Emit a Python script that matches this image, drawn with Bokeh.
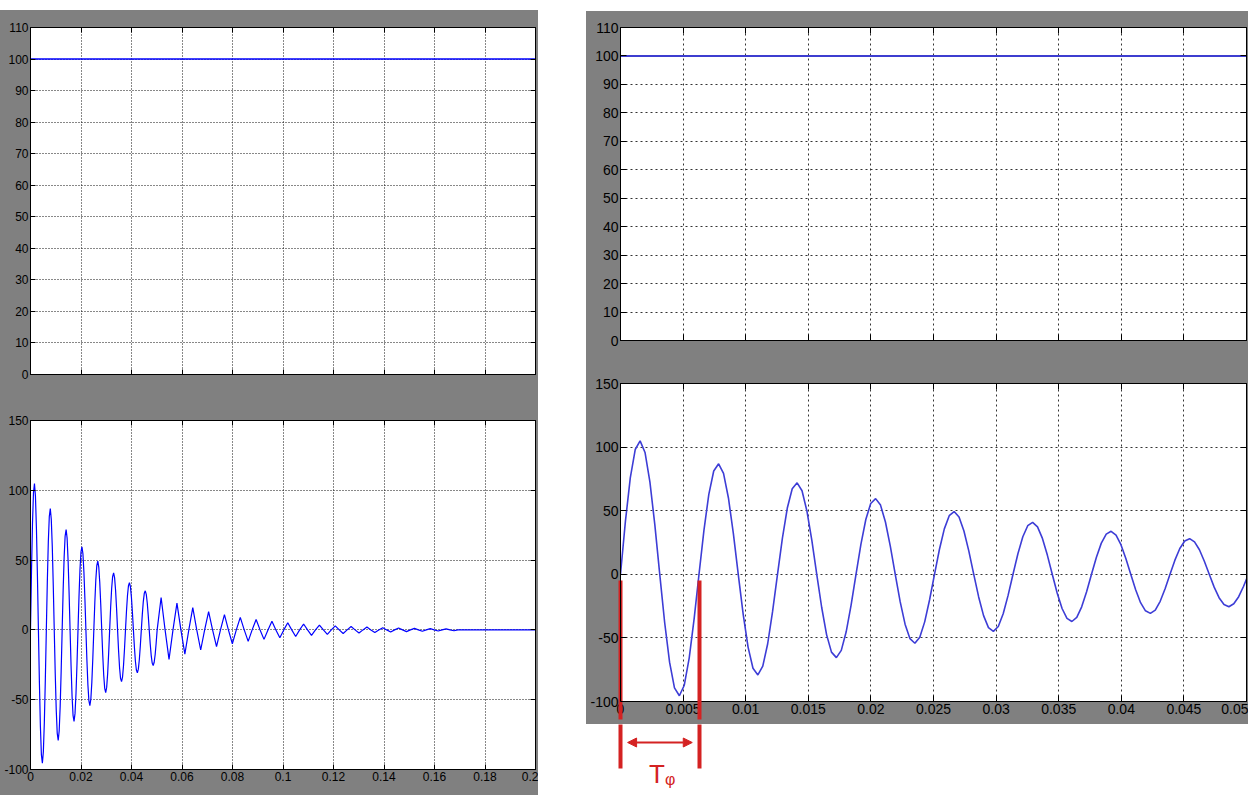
from bokeh.plotting import figure
from bokeh.layouts import row, column, Spacer
from bokeh.models import Range1d, LinearAxis, FixedTicker, Arrow, NormalHead, Label
from bokeh.embed import file_html
from bokeh.resources import INLINE
import numpy as np

GRAY = "#808080"
RED = "#d42222"
FONT = "Liberation Sans"

# ---------------- data ----------------
# reference (setpoint) signal, constant 100
ref_level = [100, 100]
ref_t_wide = [0.0, 0.2]
ref_t_zoom = [0.0, 0.05]

# damped oscillation, time in ms (first 50 ms, finely read)
t_ms = [
    0, 0.392, 0.784, 1.176, 1.567, 1.959, 2.351, 2.743, 3.135, 3.527, 3.919, 4.311, 4.703, 5.094, 5.486, 5.878,
    6.270, 6.662, 7.054, 7.446, 7.837, 8.229, 8.621, 9.013, 9.405, 9.797, 10.189, 10.581, 10.973, 11.364, 11.756, 12.148,
    12.540, 12.932, 13.324, 13.716, 14.107, 14.499, 14.891, 15.283, 15.675, 16.067, 16.459, 16.851, 17.243, 17.634, 18.026, 18.418,
    18.810, 19.202, 19.594, 19.986, 20.377, 20.769, 21.161, 21.553, 21.945, 22.337, 22.729, 23.121, 23.513, 23.904, 24.296, 24.688,
    25.080, 25.472, 25.864, 26.256, 26.647, 27.039, 27.431, 27.823, 28.215, 28.607, 28.999, 29.391, 29.783, 30.174, 30.566, 30.958,
    31.350, 31.742, 32.134, 32.526, 32.917, 33.309, 33.701, 34.093, 34.485, 34.877, 35.269, 35.661, 36.053, 36.444, 36.836, 37.228,
    37.620, 38.012, 38.404, 38.796, 39.187, 39.579, 39.971, 40.363, 40.755, 41.147, 41.539, 41.931, 42.323, 42.714, 43.106, 43.498,
    43.890, 44.282, 44.674, 45.066, 45.457, 45.849, 46.241, 46.633, 47.025, 47.417, 47.809, 48.201, 48.593, 48.984, 49.376, 49.768,
    50.160,
]
y_osc = [
    0, 41.6, 76.0, 98.1, 104.9, 95.8, 72.5, 38.8, 0, -37.9, -69.1, -89.3, -95.5, -87.2, -65.9, -35.3,
    0, 34.4, 62.9, 81.2, 86.9, 79.3, 60.0, 32.1, 0, -31.3, -57.2, -73.9, -79.1, -72.2, -54.6, -29.2,
    0, 28.5, 52.1, 67.2, 71.9, 65.7, 49.7, 26.6, 0, -25.9, -47.4, -61.2, -65.5, -59.8, -45.2, -24.2,
    0, 23.6, 43.1, 55.7, 59.5, 54.4, 41.1, 22.0, 0, -21.5, -39.2, -50.6, -54.2, -49.5, -37.4, -20.0,
    0, 19.5, 35.7, 46.1, 49.3, 45.0, 34.0, 18.2, 0, -17.8, -32.5, -41.9, -44.9, -41.0, -31.0, -16.6,
    0, 16.2, 29.5, 38.2, 40.8, 37.3, 28.2, 15.1, 0, -14.7, -26.9, -34.7, -37.1, -33.9, -25.6, -13.7,
    0, 13.4, 24.5, 31.6, 33.8, 30.8, 23.3, 12.5, 0, -12.2, -22.3, -28.7, -30.7, -28.1, -21.2, -11.4,
    0, 11.1, 20.3, 26.2, 28.0, 25.5, 19.3, 10.3, 0, -10.1, -18.4, -23.8, -25.5, -23.2, -17.6, -9.4,
    0,
]

# tail of the oscillation (50 ms .. 200 ms), peaks and zero crossings
t_tail_ms = [
    51.73, 53.30, 54.86, 56.43, 58.00, 59.57, 61.13, 62.70, 64.27, 65.84, 67.40, 68.97,
    70.54, 72.11, 73.67, 75.24, 76.81, 78.38, 79.94, 81.51, 83.08, 84.65, 86.21, 87.78,
    89.35, 90.92, 92.48, 94.05, 95.62, 97.19, 98.75, 100.32, 101.89, 103.46, 105.02, 106.59,
    108.16, 109.73, 111.29, 112.86, 114.43, 116.00, 117.56, 119.13, 120.70, 122.27, 123.83, 125.40,
    126.97, 128.54, 130.10, 131.67, 133.24, 134.81, 136.37, 137.94, 139.51, 141.08, 142.64, 144.21,
    145.78, 147.35, 148.91, 150.48, 152.05, 153.62, 155.18, 156.75, 158.32, 159.89, 161.45, 163.02,
    164.59, 166.16, 167.72, 169.29, 200.0,
]
y_tail = [
    23.2, 0, -21.1, 0, 19.2, 0, -17.4, 0, 15.9, 0, -14.4, 0,
    13.1, 0, -12.0, 0, 10.9, 0, -9.9, 0, 9.0, 0, -8.2, 0,
    7.5, 0, -6.8, 0, 6.2, 0, -5.6, 0, 5.1, 0, -4.7, 0,
    4.2, 0, -3.9, 0, 3.5, 0, -3.2, 0, 2.9, 0, -2.6, 0,
    2.4, 0, -2.2, 0, 2.0, 0, -1.8, 0, 1.6, 0, -1.5, 0,
    1.4, 0, -1.2, 0, 1.1, 0, -1.0, 0, 0.9, 0, -0.8, 0,
    0.7, 0, -0.6, 0, 0,
]

# ticks
x_ticks_wide = [0, 0.02, 0.04, 0.06, 0.08, 0.1, 0.12, 0.14, 0.16, 0.18, 0.2]
x_labels_wide = ["0", "0.02", "0.04", "0.06", "0.08", "0.1", "0.12", "0.14", "0.16", "0.18", "0.2"]
x_ticks_zoom = [0, 0.005, 0.01, 0.015, 0.02, 0.025, 0.03, 0.035, 0.04, 0.045, 0.05]
x_labels_zoom = ["0", "0.005", "0.01", "0.015", "0.02", "0.025", "0.03", "0.035", "0.04", "0.045", "0.05"]
y_ticks_ref = [0, 10, 20, 30, 40, 50, 60, 70, 80, 90, 100, 110]
y_labels_ref = ["0", "10", "20", "30", "40", "50", "60", "70", "80", "90", "100", "110"]
y_ticks_osc = [-100, -50, 0, 50, 100, 150]
y_labels_osc = ["-100", "-50", "0", "50", "100", "150"]

# period annotation T_phi (s)
tphi = [0.0, 0.0063]

t_main = np.array(t_ms) / 1000.0
t_all = np.concatenate([t_main, np.array(t_tail_ms) / 1000.0])
y_all = np.concatenate([np.array(y_osc), np.array(y_tail)])


def style_axis(ax, ticks, labels, font_size, tick_len, show_labels=True, standoff=2):
    ax.ticker = FixedTicker(ticks=ticks)
    ax.major_tick_in = tick_len
    ax.major_tick_out = 0
    ax.minor_tick_line_color = None
    ax.axis_line_color = "black"
    ax.major_tick_line_color = "black"
    ax.major_label_text_font = FONT
    ax.major_label_text_color = "black"
    ax.axis_label_standoff = 0
    if show_labels:
        ax.major_label_overrides = dict(zip(ticks, labels))
        ax.major_label_text_font_size = font_size
        ax.major_label_standoff = standoff
    else:
        ax.major_label_overrides = {t: "" for t in ticks}
        ax.major_label_text_font_size = "1px"
        ax.major_label_standoff = 0


def make_plot(width, height, borders, x_end, yr, xticks, xlabels, yticks, ylabels,
              show_x, font_size, tick_len, dash, grid_color):
    left, right, top, bottom = borders
    p = figure(width=width, height=height, x_range=Range1d(0, x_end), y_range=Range1d(*yr),
               output_backend="svg", toolbar_location=None,
               min_border_left=left, min_border_right=right,
               min_border_top=top, min_border_bottom=bottom,
               background_fill_color="white", border_fill_color=GRAY,
               outline_line_color="black")
    style_axis(p.xaxis[0], xticks, xlabels, font_size, tick_len, show_x, 2)
    style_axis(p.yaxis[0], yticks, ylabels, font_size, tick_len, True, 2)
    p.grid.grid_line_color = grid_color
    p.grid.grid_line_dash = dash
    p.grid.grid_line_width = 1
    top_ax = LinearAxis()
    style_axis(top_ax, xticks, xlabels, font_size, tick_len, False)
    p.add_layout(top_ax, "above")
    right_ax = LinearAxis()
    style_axis(right_ax, yticks, ylabels, font_size, tick_len, False)
    p.add_layout(right_ax, "right")
    return p


def marker_axis(tick_in, tick_out):
    """An axis that only draws the red T_phi marker lines as its ticks."""
    ax = LinearAxis(ticker=FixedTicker(ticks=tphi))
    ax.major_label_overrides = {t: "" for t in tphi}
    ax.major_label_text_font_size = "1px"
    ax.major_label_standoff = 0
    ax.axis_label_standoff = 0
    ax.axis_line_color = None
    ax.minor_tick_line_color = None
    ax.major_tick_line_color = RED
    ax.major_tick_line_width = 4
    ax.major_tick_in = tick_in
    ax.major_tick_out = tick_out
    return ax


# ---------------- left panel ----------------
f1 = make_plot(538, 387, (30, 3, 17, 23), 0.2, (0, 110), x_ticks_wide, x_labels_wide,
               y_ticks_ref, y_labels_ref, False, "12px", 5, "1 2", "#111111")
f1.line(ref_t_wide, ref_level, line_color="#0000ff", line_width=1.5)

f2 = make_plot(538, 398, (30, 3, 23, 26), 0.2, (-100, 150), x_ticks_wide, x_labels_wide,
               y_ticks_osc, y_labels_osc, True, "12px", 5, "1 2", "#111111")
f2.line(t_all, y_all, line_color="#0000ff", line_width=1.2)

# ---------------- right panel ----------------
f3 = make_plot(662, 350, (34, 2, 16, 21), 0.05, (0, 110), x_ticks_zoom, x_labels_zoom,
               y_ticks_ref, y_labels_ref, False, "14px", 6, "2 3", "#333333")
f3.line(ref_t_zoom, ref_level, line_color="#3d3dd0", line_width=2)

f4 = make_plot(662, 363, (34, 2, 22, 23), 0.05, (-100, 150), x_ticks_zoom, x_labels_zoom,
               y_ticks_osc, y_labels_osc, True, "14px", 6, "2 3", "#333333")
f4.line(t_main, y_osc, line_color="#3d3dd6", line_width=1.6)
# T_phi marker lines: from just below zero down through the grey tick-label strip
f4.add_layout(marker_axis(136, 3), "below")

# white annotation strip under the right panel (shares the x scale)
f5 = figure(width=662, height=71, x_range=f4.x_range, y_range=Range1d(0, 68),
            output_backend="svg", toolbar_location=None,
            min_border_left=34, min_border_right=2, min_border_top=3, min_border_bottom=0,
            x_axis_type=None, y_axis_type=None,
            background_fill_color="white", border_fill_color="white", outline_line_color=None)
f5.grid.visible = False
f5.add_layout(marker_axis(41, 3), "above")
span = tphi[1] - tphi[0]
f5.add_layout(Arrow(start=NormalHead(size=9, fill_color=RED, line_color=RED),
                    end=NormalHead(size=9, fill_color=RED, line_color=RED),
                    x_start=tphi[0] + 0.09 * span, x_end=tphi[1] - 0.09 * span,
                    y_start=53, y_end=53, line_color=RED, line_width=2))
mid = (tphi[0] + tphi[1]) / 2
f5.add_layout(Label(x=mid, y=22, x_offset=-3, text="T", text_font=FONT, text_font_size="26px",
                    text_color=RED, text_align="center", text_baseline="alphabetic"))
f5.add_layout(Label(x=mid, y=16, x_offset=5, text="φ", text_font=FONT, text_font_size="16px",
                    text_color=RED, text_align="left", text_baseline="alphabetic"))

left_gray = column(f1, f2, styles={"background-color": GRAY})
right_gray = column(f3, f4, styles={"background-color": GRAY})
left_col = column(Spacer(width=1, height=10), left_gray)
right_col = column(Spacer(width=1, height=11), right_gray, f5)
layout = row(left_col, Spacer(width=48, height=1), right_col)

open("out.html", "w").write(file_html(layout, INLINE))
